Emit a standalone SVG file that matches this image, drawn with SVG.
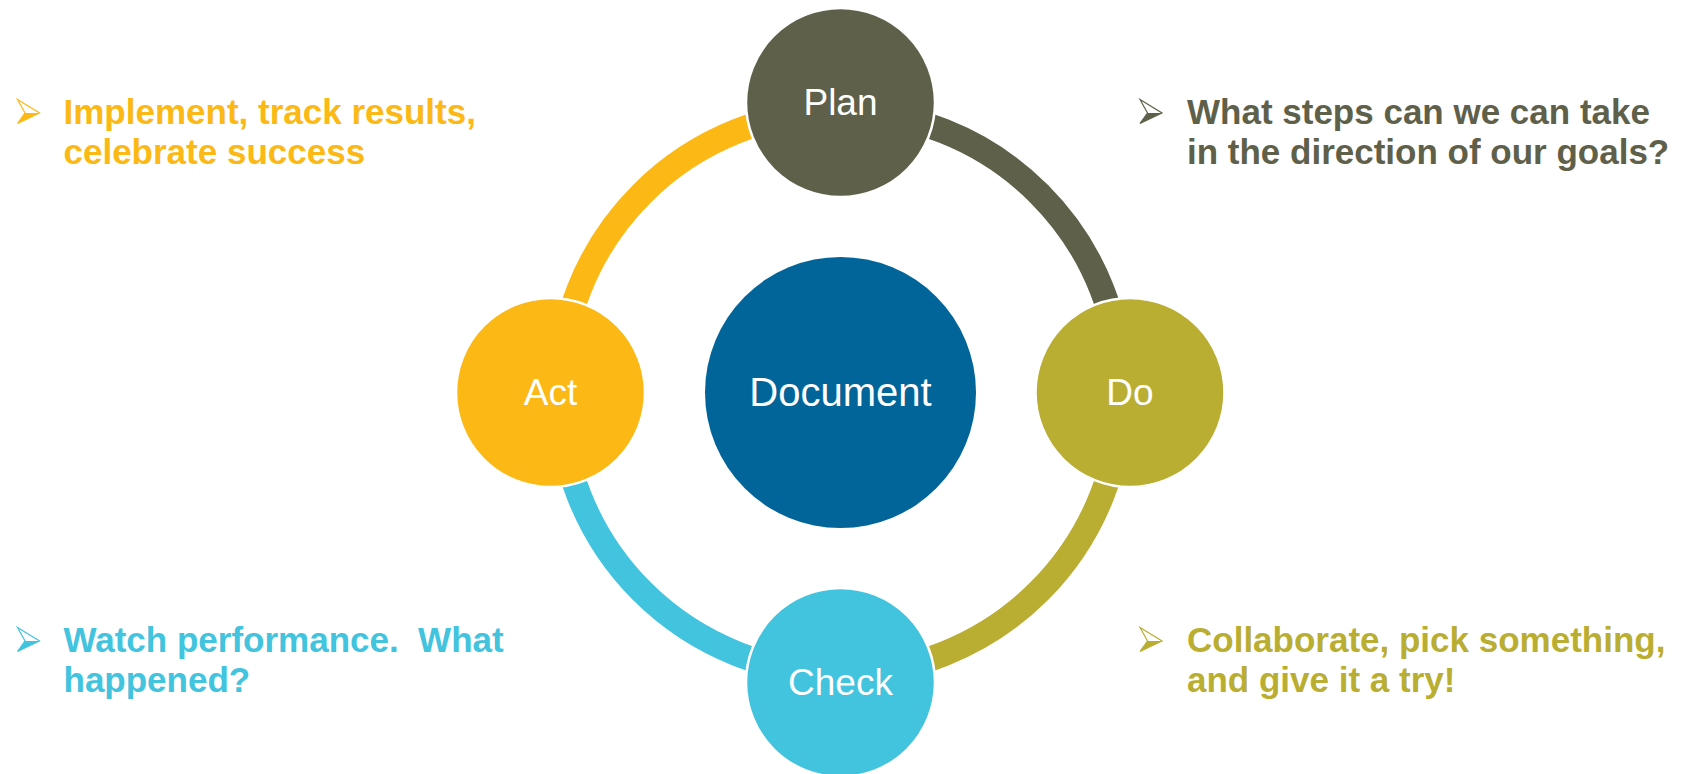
<svg xmlns="http://www.w3.org/2000/svg" width="1682" height="774" viewBox="0 0 1682 774">
<style>
.lbl{font-family:"Liberation Sans",Arial,sans-serif;font-size:37px;fill:#ffffff;text-anchor:middle}
.doc{font-size:40px}
.node{stroke:#ffffff;stroke-width:2.5}
.arc{fill:none;stroke-width:25}
.note{font-family:"Liberation Sans",Arial,sans-serif;font-size:35px;font-weight:bold;white-space:pre}
.blt{stroke-width:1.2;stroke-linejoin:miter}
</style>
<rect width="1682" height="774" fill="#ffffff"/>
<g id="connectors">
<path class="arc" stroke="#5f604a" d="M840.5 111.5 A281 281 0 0 1 1121.5 392.5"/>
<path class="arc" stroke="#b9ae32" d="M1121.5 392.5 A281 281 0 0 1 840.5 673.5"/>
<path class="arc" stroke="#42c3de" d="M840.5 673.5 A281 281 0 0 1 559.5 392.5"/>
<path class="arc" stroke="#fcb814" d="M559.5 392.5 A281 281 0 0 1 840.5 111.5"/>
</g>
<g id="document">
<circle cx="840.5" cy="392.5" r="135.5" fill="#02659a"/>
<text class="lbl doc" x="840.5" y="405.5">Document</text>
</g>
<g id="plan">
<circle class="node" cx="840.5" cy="102.5" r="94.5" fill="#5f604a"/>
<text class="lbl" x="840.5" y="115">Plan</text>
</g>
<g id="do">
<circle class="node" cx="1130" cy="392.5" r="94.5" fill="#b9ae32"/>
<text class="lbl" x="1130" y="405">Do</text>
</g>
<g id="check">
<circle class="node" cx="840.5" cy="682.5" r="94.5" fill="#42c3de"/>
<text class="lbl" x="840.5" y="694.5">Check</text>
</g>
<g id="act">
<circle class="node" cx="550.5" cy="392.5" r="94.5" fill="#fcb814"/>
<text class="lbl" x="550.5" y="405">Act</text>
</g>
<g id="note-act">
<g transform="translate(17.5 99.5)" fill="#fcb814" stroke="#fcb814" class="blt">
<path d="M0 0 L22 13.5 L0 24 L7.5 13.5 Z" fill="#ffffff"/>
<path d="M7.5 13.5 L22 13.5 L0 24 Z" stroke="none"/>
</g>
<text class="note" fill="#fcb814"><tspan x="63.5" y="123.5">Implement, track results,</tspan><tspan x="63.5" y="163.5">celebrate success</tspan></text>
</g>
<g id="note-plan">
<g transform="translate(1140 99.5)" fill="#5f604a" stroke="#5f604a" class="blt">
<path d="M0 0 L22 13.5 L0 24 L7.5 13.5 Z" fill="#ffffff"/>
<path d="M7.5 13.5 L22 13.5 L0 24 Z" stroke="none"/>
</g>
<text class="note" fill="#5f604a"><tspan x="1187" y="123.5">What steps can we can take</tspan><tspan x="1187" y="163.5">in the direction of our goals?</tspan></text>
</g>
<g id="note-check">
<g transform="translate(17.5 627.5)" fill="#42c3de" stroke="#42c3de" class="blt">
<path d="M0 0 L22 13.5 L0 24 L7.5 13.5 Z" fill="#ffffff"/>
<path d="M7.5 13.5 L22 13.5 L0 24 Z" stroke="none"/>
</g>
<text class="note" fill="#42c3de" xml:space="preserve"><tspan x="63.5" y="651.5">Watch performance.  What</tspan><tspan x="63.5" y="691.5">happened?</tspan></text>
</g>
<g id="note-do">
<g transform="translate(1140 627.5)" fill="#b9ae32" stroke="#b9ae32" class="blt">
<path d="M0 0 L22 13.5 L0 24 L7.5 13.5 Z" fill="#ffffff"/>
<path d="M7.5 13.5 L22 13.5 L0 24 Z" stroke="none"/>
</g>
<text class="note" fill="#b9ae32"><tspan x="1187" y="651.5">Collaborate, pick something,</tspan><tspan x="1187" y="691.5">and give it a try!</tspan></text>
</g>
</svg>
